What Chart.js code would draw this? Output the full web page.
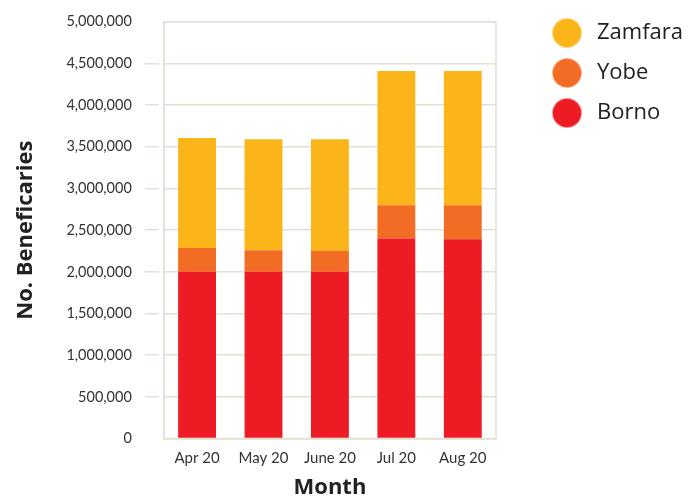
<!DOCTYPE html>
<html><head><meta charset="utf-8">
<script src="https://cdn.jsdelivr.net/npm/chart.js@4"></script>
<style>html,body{margin:0;padding:0;background:#fff}#wrap{width:696px;height:499px}</style>
</head><body><div id="wrap"><canvas id="c"></canvas></div>
<script>
const categories = ["Apr 20", "May 20", "June 20", "Jul 20", "Aug 20"];
const borno = [2000000, 2000000, 2000000, 2400000, 2390000];
const yobe = [285000, 260000, 250000, 400000, 410000];
const zamfara = [1320000, 1330000, 1340000, 1610000, 1610000];
const yTicks = [0, 500000, 1000000, 1500000, 2000000, 2500000, 3000000, 3500000, 4000000, 4500000, 5000000];

const FONT = "Lato, 'Open Sans', sans-serif";
const FONT2 = "'Open Sans', Lato, sans-serif";
const GRID = "#e3dfd2";
const LEGEND_WIDTH = 200;
const LEGEND_SHIFT_RIGHT = 50;
const LEGEND_SHIFT_UP = 10;
const DOT_R = 14.5, DOT_SHIFT = 8;

function makeDot(color) {
  const c = document.createElement('canvas');
  const w = 2 * (DOT_R + DOT_SHIFT) + 4, h = 2 * DOT_R + 4;
  c.width = w; c.height = h;
  const g = c.getContext('2d');
  g.fillStyle = color;
  g.beginPath();
  g.arc(w / 2 - DOT_SHIFT, h / 2, DOT_R, 0, Math.PI * 2);
  g.fill();
  return c;
}

const borderPlugin = {
  id: 'areaBorder',
  afterInit(chart) {
    const lg = chart.legend;
    if (lg && !lg._patched) {
      const orig = lg.fit;
      lg.fit = function () { orig.call(this); this.width = LEGEND_WIDTH; };
      lg._patched = true;
    }
  },
  afterLayout(chart) {
    const lg = chart.legend;
    if (lg) {
      lg.left += LEGEND_SHIFT_RIGHT; lg.right += LEGEND_SHIFT_RIGHT;
      lg.top -= LEGEND_SHIFT_UP; lg.bottom -= LEGEND_SHIFT_UP;
    }
  },
  beforeDatasetsDraw(chart) {
    const a = chart.chartArea, ctx = chart.ctx;
    ctx.save();
    ctx.strokeStyle = GRID; ctx.lineWidth = 1.5;
    ctx.strokeRect(a.left, a.top, a.right - a.left, a.bottom - a.top);
    ctx.restore();
  }
};

new Chart(document.getElementById('c'), {
  type: 'bar',
  data: {
    labels: categories,
    datasets: [
      { label: 'Borno', data: borno, backgroundColor: '#ed1c24' },
      { label: 'Yobe', data: yobe, backgroundColor: '#f36c24' },
      { label: 'Zamfara', data: zamfara, backgroundColor: '#fbb518' }
    ]
  },
  options: {
    responsive: true, maintainAspectRatio: false, animation: false,
    layout: { padding: { top: 14, left: 0, right: 0, bottom: 0 } },
    datasets: { bar: { barPercentage: 0.57, categoryPercentage: 1 } },
    plugins: {
      legend: {
        position: 'right', align: 'start', reverse: true,
        labels: { usePointStyle: true, padding: 18,
          boxWidth: 22, boxHeight: 20,
          font: { family: FONT2, size: 22 }, color: '#222',
          generateLabels(chart) {
            const items = Chart.defaults.plugins.legend.labels.generateLabels(chart);
            items.forEach(it => { it.pointStyle = makeDot(it.fillStyle); });
            return items;
          } }
      },
      tooltip: { enabled: false }
    },
    scales: {
      x: {
        stacked: true,
        grid: { display: false, drawTicks: false, tickLength: 0 },
        border: { display: true, color: GRID, width: 1.5 },
        ticks: { font: { family: FONT, size: 15 }, color: '#333', padding: 11 },
        title: { display: true, text: 'Month', font: { family: FONT2, size: 22, weight: 'bold' }, color: '#222', padding: { top: -4, bottom: -2 } }
      },
      y: {
        stacked: true, min: 0, max: 5000000,
        afterBuildTicks(axis) { axis.ticks = yTicks.map(v => ({ value: v })); },
        grid: { color: GRID, lineWidth: 1.5, tickLength: 19,
          tickBorderDash: [14, 100],
          tickColor: ctx => (ctx.tick && (ctx.tick.value === 0 || ctx.tick.value === 5000000)) ? 'rgba(0,0,0,0)' : GRID },
        border: { display: true, color: GRID, width: 1.5 },
        ticks: { font: { family: FONT, size: 14.5 }, color: '#333', padding: 13,
          callback: v => Number(v).toLocaleString('en-US') },
        title: { display: true, text: 'No. Beneficaries', font: { family: FONT2, size: 22, weight: 'bold' }, color: '#222', padding: { top: 13, bottom: 14 } }
      }
    }
  },
  plugins: [borderPlugin]
});
</script></body></html>
